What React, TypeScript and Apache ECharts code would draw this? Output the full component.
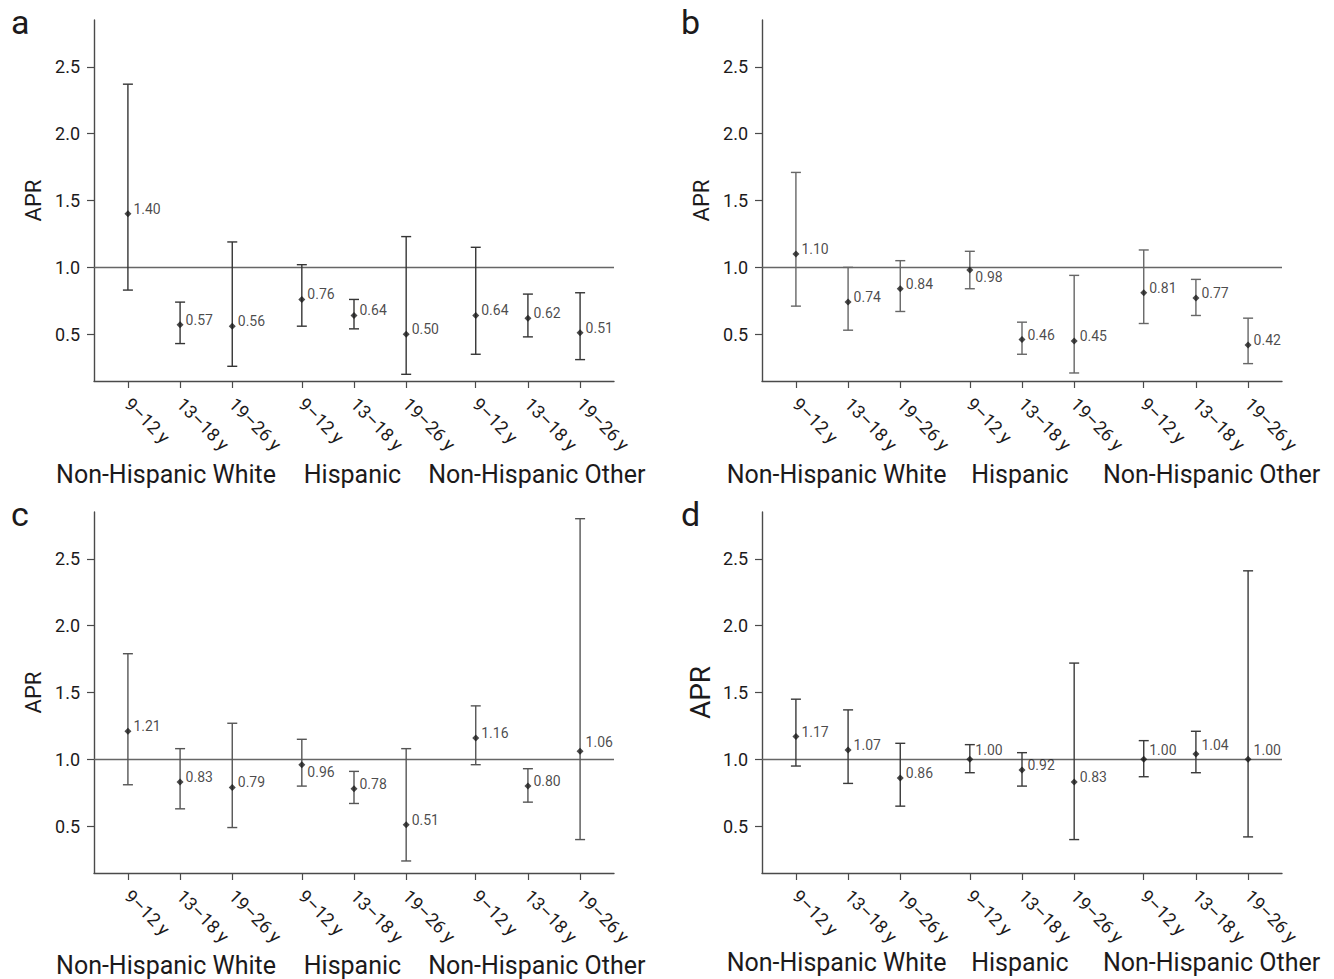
import React, { useEffect, useRef } from "react";
import * as echarts from "echarts";

// ---------- data ----------
const ageGroups = ["9–12 y", "13–18 y", "19–26 y"];
const ethnicities = ["Non-Hispanic White", "Hispanic", "Non-Hispanic Other"];
const yTickValues = [0.5, 1.0, 1.5, 2.0, 2.5];
const panelLetters = ["a", "b", "c", "d"];

// order: NHW 9–12, 13–18, 19–26, Hispanic 9–12, 13–18, 19–26, NHO 9–12, 13–18, 19–26
const aAPR = [1.4, 0.57, 0.56, 0.76, 0.64, 0.5, 0.64, 0.62, 0.51];
const aLower = [0.83, 0.43, 0.26, 0.56, 0.54, 0.2, 0.35, 0.48, 0.31];
const aUpper = [2.37, 0.74, 1.19, 1.02, 0.76, 1.23, 1.15, 0.8, 0.81];

const bAPR = [1.1, 0.74, 0.84, 0.98, 0.46, 0.45, 0.81, 0.77, 0.42];
const bLower = [0.71, 0.53, 0.67, 0.84, 0.35, 0.21, 0.58, 0.64, 0.28];
const bUpper = [1.71, 1.0, 1.05, 1.12, 0.59, 0.94, 1.13, 0.91, 0.62];

const cAPR = [1.21, 0.83, 0.79, 0.96, 0.78, 0.51, 1.16, 0.8, 1.06];
const cLower = [0.81, 0.63, 0.49, 0.8, 0.67, 0.24, 0.96, 0.68, 0.4];
const cUpper = [1.79, 1.08, 1.27, 1.15, 0.91, 1.08, 1.4, 0.93, 2.8];

const dAPR = [1.17, 1.07, 0.86, 1.0, 0.92, 0.83, 1.0, 1.04, 1.0];
const dLower = [0.95, 0.82, 0.65, 0.9, 0.8, 0.4, 0.87, 0.9, 0.42];
const dUpper = [1.45, 1.37, 1.12, 1.11, 1.05, 1.72, 1.14, 1.21, 2.41];

const referenceValue = 1.0;

// ---------- layout / style ----------
const FONT = "Roboto, 'Open Sans', sans-serif";
const TEXT = "#1c1a1b";
const AXIS = "#4a4a4a";
const Y_MIN = 0.15;
const Y_MAX = 2.85;
const GROUP_GAP = 1 / 3;
const X_PAD = 0.65;

const xPos = (g: number, i: number) => g * (ageGroups.length + GROUP_GAP) + i;

const panels = [
  { apr: aAPR, lo: aLower, hi: aUpper, left: 94, top: 20, color: "#353535", nameSize: 22, nameGap: 50, letterLeft: 6, letterTop: 0, rowTop: 462, shift: [-0.27, -0.03, 0.17] },
  { apr: bAPR, lo: bLower, hi: bUpper, left: 762, top: 20, color: "#666666", nameSize: 22, nameGap: 50, letterLeft: 676, letterTop: 0, rowTop: 462, shift: [-0.22, -0.04, 0.3] },
  { apr: cAPR, lo: cLower, hi: cUpper, left: 94, top: 512, color: "#555555", nameSize: 22, nameGap: 50, letterLeft: 6, letterTop: 492, rowTop: 953, shift: [-0.27, -0.03, 0.17] },
  { apr: dAPR, lo: dLower, hi: dUpper, left: 762, top: 512, color: "#3a3a3a", nameSize: 28, nameGap: 48, letterLeft: 676, letterTop: 492, rowTop: 950, shift: [-0.22, -0.04, 0.3] },
];

export default function App() {
  const ref = useRef<HTMLDivElement>(null);

  useEffect(() => {
    if (!ref.current) return;
    const chart = echarts.init(ref.current, null, { renderer: "svg" });

    const tickPositions: number[] = [];
    const tickLabels: string[] = [];
    ethnicities.forEach((_, g) =>
      ageGroups.forEach((age, i) => {
        tickPositions.push(xPos(g, i));
        tickLabels.push(age);
      })
    );
    const xMin = -X_PAD;
    const xMax = xPos(ethnicities.length - 1, ageGroups.length - 1) + X_PAD;
    const groupCenters = ethnicities.map((_, g) => xPos(g, (ageGroups.length - 1) / 2));

    const grids: any[] = [];
    const xAxes: any[] = [];
    const yAxes: any[] = [];
    const series: any[] = [];
    const titles: any[] = [];

    panels.forEach((p, k) => {
      const gridIdx = k;
      const rowGridIdx = panels.length + k;
      grids[gridIdx] = { left: p.left, top: p.top, width: 520, height: 361 };
      grids[rowGridIdx] = { left: p.left, top: p.rowTop - 1, width: 520, height: 1 };

      const groupLabelPos = groupCenters.map((c, g) => c + p.shift[g]);

      xAxes.push({
        type: "value",
        gridIndex: gridIdx,
        min: xMin,
        max: xMax,
        splitLine: { show: false },
        axisLine: { show: true, onZero: false, lineStyle: { color: AXIS, width: 1.4 } },
        axisTick: { show: true, customValues: tickPositions, length: 7, lineStyle: { color: AXIS, width: 1.2 } },
        axisLabel: {
          show: true,
          customValues: tickPositions,
          rotate: -45,
          margin: 20,
          fontSize: 18,
          fontFamily: FONT,
          color: TEXT,
          formatter: (v: number) => {
            const idx = tickPositions.findIndex((t) => Math.abs(t - v) < 1e-6);
            return idx >= 0 ? tickLabels[idx] : "";
          },
        },
      });
      yAxes.push({
        type: "value",
        gridIndex: gridIdx,
        min: Y_MIN,
        max: Y_MAX,
        name: "APR",
        nameLocation: "middle",
        nameGap: p.nameGap,
        nameTextStyle: { fontSize: p.nameSize, fontFamily: FONT, color: TEXT },
        splitLine: { show: false },
        axisLine: { show: true, onZero: false, lineStyle: { color: AXIS, width: 1.4 } },
        axisTick: { show: true, customValues: yTickValues, length: 7, lineStyle: { color: AXIS, width: 1.2 } },
        axisLabel: {
          customValues: yTickValues,
          margin: 14,
          fontSize: 18,
          fontFamily: FONT,
          color: TEXT,
          formatter: (v: number) => v.toFixed(1),
        },
      });

      // group label row
      xAxes.push({
        type: "value",
        gridIndex: rowGridIdx,
        min: xMin,
        max: xMax,
        splitLine: { show: false },
        axisLine: { show: false, onZero: false },
        axisTick: { show: false },
        axisLabel: {
          customValues: groupLabelPos,
          margin: 0,
          fontSize: 25,
          fontFamily: FONT,
          color: TEXT,
          formatter: (v: number) => {
            const idx = groupLabelPos.findIndex((t) => Math.abs(t - v) < 1e-6);
            return idx >= 0 ? ethnicities[idx] : "";
          },
        },
      });
      yAxes.push({
        type: "value",
        gridIndex: rowGridIdx,
        show: false,
        min: 0,
        max: 1,
      });

      const xAxisIndex = 2 * k;
      const yAxisIndex = 2 * k;

      const barData = p.apr.map((_, j) => [tickPositions[j], p.lo[j], p.hi[j]]);
      const pointData = p.apr.map((v, j) => ({
        value: [tickPositions[j], v],
        label: { offset: [0, v > 0.93 && v < 1.0 ? 7 : v >= 1.0 && v <= 1.06 ? -9 : -5] },
      }));

      const color = p.color;
      series.push({
        type: "custom",
        xAxisIndex,
        yAxisIndex,
        z: 3,
        silent: true,
        encode: { x: 0, y: [1, 2] },
        data: barData,
        renderItem: (params: any, api: any) => {
          const x = api.value(0);
          const lo = api.value(1);
          const hi = api.value(2);
          const top = api.coord([x, hi]);
          const bot = api.coord([x, lo]);
          const hw = 5;
          const style = { stroke: color, lineWidth: 1.4 };
          return {
            type: "group",
            children: [
              { type: "line", shape: { x1: top[0], y1: top[1], x2: bot[0], y2: bot[1] }, style },
              { type: "line", shape: { x1: top[0] - hw, y1: top[1], x2: top[0] + hw, y2: top[1] }, style },
              { type: "line", shape: { x1: bot[0] - hw, y1: bot[1], x2: bot[0] + hw, y2: bot[1] }, style },
            ],
          };
        },
      });
      series.push({
        type: "scatter",
        xAxisIndex,
        yAxisIndex,
        z: 4,
        symbol: "diamond",
        symbolSize: 7,
        itemStyle: { color: "#1a1a1a" },
        label: {
          show: true,
          position: "right",
          distance: 2,
          fontSize: 14,
          fontFamily: FONT,
          color: TEXT,
          formatter: (d: any) => Number(d.value[1]).toFixed(2),
        },
        data: pointData,
        markLine: {
          silent: true,
          symbol: "none",
          label: { show: false },
          lineStyle: { color: "#666", width: 1.3, type: "solid" },
          data: [{ yAxis: referenceValue }],
          z: 2,
        },
      });

      titles.push({
        text: panelLetters[k],
        left: p.letterLeft,
        top: p.letterTop,
        textStyle: { fontSize: 34, fontWeight: "normal", fontFamily: FONT, color: TEXT },
      });
    });

    chart.setOption({
      animation: false,
      backgroundColor: "#ffffff",
      title: titles,
      grid: grids,
      xAxis: xAxes,
      yAxis: yAxes,
      series,
    });

    return () => chart.dispose();
  }, []);

  return (
    <div
      ref={ref}
      style={{ position: "absolute", left: 0, top: 0, width: 1334, height: 979 }}
    />
  );
}
